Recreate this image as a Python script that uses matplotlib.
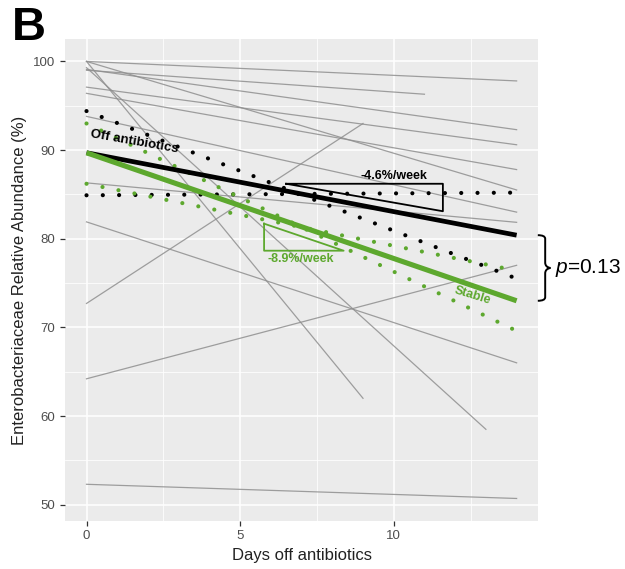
import matplotlib
matplotlib.use("Agg")
import matplotlib.pyplot as plt
from matplotlib.path import Path
from matplotlib.patches import PathPatch
import numpy as np

plt.rcParams.update({
    "font.family": ["Liberation Sans", "DejaVu Sans"],
    "mathtext.fontset": "custom",
    "mathtext.it": "Liberation Sans:italic",
    "mathtext.rm": "Liberation Sans",
})

# individual subjects (start day, start value, end day, end value)
subj_x0 = [0, 0, 0, 0, 0, 0, 0, 0, 0, 0, 0, 0, 0, 0]
subj_y0 = [100, 99.0, 100, 99.3, 72.7, 81.9, 64.2, 52.3, 99.1, 97.1, 96.4, 100, 93.8, 86.3]
subj_x1 = [14, 11, 9, 13, 9, 14, 14, 14, 14, 14, 14, 14, 14, 14]
subj_y1 = [97.8, 96.3, 62.0, 58.5, 93.0, 66.0, 77.0, 50.7, 92.3, 90.6, 87.8, 85.5, 83.0, 81.85]

# fitted trends
fit_days = [0, 14]
off_fit = [89.7, 80.4]
stable_fit = [89.7, 73.0]
off_ci_hi = [94.4, 75.5]
off_ci_lo = [84.9, 85.2]
stable_ci_hi = [93.0, 69.6]
stable_ci_lo = [86.2, 76.4]

# slope triangles: corner points
off_tri_x = [6.5, 11.6, 11.6, 6.5]
off_tri_y = [86.2, 86.2, 83.1, 86.2]
stable_tri_x = [5.78, 5.78, 8.37, 5.78]
stable_tri_y = [81.7, 78.65, 78.65, 81.7]

black = "#000000"
green = "#5DA82E"

fig = plt.figure(figsize=(6.25, 5.69), dpi=100)
ax = fig.add_axes([0.104, 0.085, 0.757, 0.846])
ax.set_facecolor("#EBEBEB")

for x0, y0, x1, y1 in zip(subj_x0, subj_y0, subj_x1, subj_y1):
    ax.plot([x0, x1], [y0, y1], color="#8f8f8f", lw=0.9, alpha=0.85, zorder=2)

dot = (0, (0.01, 3.9))
for ys, c in [(off_ci_hi, black), (off_ci_lo, black), (stable_ci_hi, green), (stable_ci_lo, green)]:
    ax.plot(fit_days, ys, color=c, lw=3.0, linestyle=dot, dash_capstyle="round", zorder=3)

ax.plot(fit_days, off_fit, color=black, lw=3.4, solid_capstyle="butt", zorder=4)
ax.plot(fit_days, stable_fit, color=green, lw=3.7, solid_capstyle="butt", zorder=4)

ax.plot(off_tri_x, off_tri_y, color=black, lw=1.3, zorder=5)
ax.plot(stable_tri_x, stable_tri_y, color=green, lw=1.3, zorder=5)

ax.text(10.0, 87.1, "-4.6%/week", fontsize=9, fontweight="bold", color=black, ha="center", va="center", zorder=6)
ax.text(6.97, 77.7, "-8.9%/week", fontsize=9, fontweight="bold", color=green, ha="center", va="center", zorder=6)
ax.text(1.55, 90.9, "Off antibiotics", fontsize=9.5, fontweight="bold", color=black,
        rotation=-10, ha="center", va="center", zorder=6)
ax.text(12.55, 73.6, "Stable", fontsize=9, fontweight="bold", color=green,
        rotation=-17, ha="center", va="center", zorder=6)

# brace between the two fitted end points
top, bot = off_fit[-1], stable_fit[-1]
mid = (top + bot) / 2
bx0, bx1, bx2 = 14.69, 14.93, 15.1
verts = [(bx0, top), (bx1, top), (bx1, top - 0.4), (bx1, mid + 0.6), (bx1, mid + 0.1), (bx2, mid),
         (bx1, mid - 0.1), (bx1, mid - 0.6), (bx1, bot + 0.4), (bx1, bot), (bx0, bot)]
codes = [Path.MOVETO, Path.CURVE3, Path.CURVE3, Path.LINETO, Path.CURVE3, Path.CURVE3,
         Path.CURVE3, Path.CURVE3, Path.LINETO, Path.CURVE3, Path.CURVE3]
ax.add_patch(PathPatch(Path(verts, codes), fill=False, lw=1.4, color=black, clip_on=False))
ax.text(15.25, mid, "$p$=0.13", fontsize=15, ha="left", va="center", clip_on=False)

ax.set_xlim(-0.7, 14.7)
ax.set_ylim(48.2, 102.5)
ax.set_xticks([0, 5, 10])
ax.set_yticks([50, 60, 70, 80, 90, 100])
ax.set_xticks([2.5, 7.5, 12.5], minor=True)
ax.set_yticks([55, 65, 75, 85, 95], minor=True)
ax.grid(which="major", color="white", lw=1.1)
ax.grid(which="minor", color="white", lw=0.55)
ax.set_axisbelow(True)
for s in ax.spines.values():
    s.set_visible(False)
ax.tick_params(which="major", length=3.5, width=0.9, color="#333333", labelcolor="#4D4D4D", labelsize=9.5)
ax.tick_params(which="minor", length=0)

ax.set_xlabel("Days off antibiotics", fontsize=12, color="#222222")
ax.set_ylabel("Enterobacteriaceae Relative Abundance (%)", fontsize=12, color="#222222")

fig.text(0.019, 0.93, "B", fontsize=34, fontweight="bold", ha="left", va="baseline")

fig.savefig("out.png", dpi=100)
